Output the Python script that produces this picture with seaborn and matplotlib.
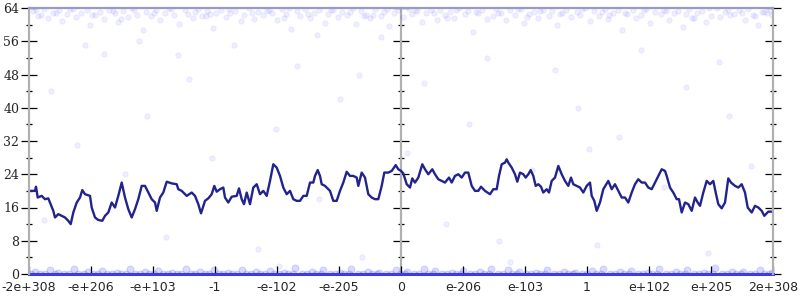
import matplotlib
matplotlib.use("Agg")
import matplotlib.pyplot as plt
import seaborn as sns
from matplotlib.ticker import MultipleLocator

# ---------------- data ----------------
tick_labels = ["-2e+308", "-e+206", "-e+103", "-1", "-e-102", "-e-205", "0",
               "e-206", "e-103", "1", "e+102", "e+205", "2e+308"]
tick_pos = [0, 62, 124, 186, 248, 310, 372, 434, 496, 558, 620, 682, 744]
y_ticks = [0, 8, 16, 24, 32, 40, 48, 56, 64]

line_x = [0, 6, 7, 8.7, 12.7, 16, 19.3, 21, 24.3, 26, 29.3, 32.7, 36, 39.3, 41.7, 44.3,
          47.7, 51, 53.3, 56, 61, 62.7, 66, 69.3, 73.3, 76, 79.3, 82.7, 86, 89.3, 92.7,
          96, 99.3, 102.7, 106, 109.3, 112.7, 116, 119.3, 122.7, 126, 127.7, 131, 134.3,
          137.7, 142.7, 147.7,
          149.3, 152.7, 157.7, 162.7, 166, 169.3, 172, 176, 179.3, 182.7, 185.3, 187.7,
          191, 194.3, 196, 199.3, 202.7, 207.7, 210, 212.7, 215, 217.7, 221, 224.3, 227.7,
          231, 234.3, 237.7, 241, 244.3, 247.7, 251, 254.3, 257.7, 261, 264.3, 267.7, 271,
          274.3, 277.7, 281, 284.3, 286, 288.7, 291, 292.7, 296,
          301, 304.3, 307.7, 311, 314.3, 317.7, 321, 324.3, 327.7, 329.3, 332.7, 336,
          339.3, 342.7, 346, 349.3, 352.7, 355.3, 359.3, 362.7, 366.7, 369.3, 372, 374.3,
          377.7, 381, 383.3, 386, 389.3, 393.3, 396, 399.3, 403.3, 406, 409.3, 412.7, 416,
          420, 422.7, 426, 429.3, 432.7, 436, 439.3, 442.7, 446, 449.3,
          452, 456, 461, 464.3, 467.7, 470, 472.7, 476, 477.7, 479.3, 482.7, 486, 488.3,
          491, 494.3, 496.7, 499.3, 501.7, 504.3, 506.7, 509.3, 512, 514.3, 517.7, 520,
          522.7, 526, 529.3, 532.7, 536, 539.3, 542, 544.3, 547.7, 551, 554.3, 557.7, 561,
          562.7, 565.3, 567.7, 571, 574.3, 579.3, 582.7, 586, 589.3, 592.7, 596, 599.3,
          602.7, 606, 609.3, 612.7, 616, 619.3, 622.7, 626, 629.3, 632.7, 636, 637.7, 641,
          644.3, 647.7, 650, 652.7, 656, 659.3, 662.7, 666, 668.7, 671, 674.3, 677.7, 681,
          684.3, 686.7, 689.3, 692.7, 696, 699.3, 702, 706, 709.3, 712.7, 716, 718.7,
          722.7, 726, 729.3, 732.7, 735.3, 739.3, 744]
line_y = [20, 20, 21, 18.4, 18.8, 18, 18.2, 17.2, 15.2, 13.6, 14.4, 14, 13.6, 12.8, 12, 14.8,
          17.2, 18.4, 20.2, 19.2, 18.8, 16, 13.6, 13, 12.8, 14, 14.8, 17.2, 16, 18.8, 22,
          18.4, 15.6, 13.6, 15.6, 18, 21.2, 21.2, 19.6, 18, 17.2, 15.2, 18.4, 19.6,
          22.2, 21.8, 21.6,
          20.4, 20, 18.8, 19.6, 18.8, 16.8, 14.6, 17.6, 18.2, 19.2, 21.2, 19.8,
          20.4, 20.8, 18.4, 17.2, 18.6, 18.8, 20.6, 18, 16.8, 19.6, 16.8, 20.8, 21.6,
          19.2, 20, 18.8, 22.4, 26.4, 25.6, 23.6, 20.8, 19.2, 20, 18, 17.6, 17.6,
          18.8, 18.8, 22, 22, 23.6, 25, 23.6, 21.6, 21.2,
          20, 17.6, 17.6, 20, 22, 24.6, 23.6, 23.6, 23.2, 21.2, 24.4, 23.2,
          19.2, 18.4, 18, 18, 21.2, 24.4, 24.4, 24.8, 26.2, 25.2, 24.8, 24.2,
          21.6, 20.8, 23, 22, 23.2, 26.4, 25.2, 24, 25.2, 24, 22.8, 22.4, 22,
          23.2, 22, 23.6, 24, 23.2, 24.4, 24.4, 21.2, 20, 20,
          21, 20, 19.2, 20.4, 20.4, 23.6, 26.4, 26.8, 27.6, 26.8, 25.6, 24, 22.2,
          24.4, 24, 23.2, 24, 25, 23.6, 21.2, 21.6, 21, 19.6, 20.4, 19.6,
          22.4, 23.2, 26, 24, 22.4, 21.2, 23.2, 21.6, 21.2, 20.8, 19.6, 21.2, 22,
          18.8, 17.6, 15.2, 17.2, 20.4, 22.4, 20.4, 21.6, 20, 18.4, 18.4, 17.2,
          19.6, 21.6, 22.8, 22, 22, 20.8, 20.4, 22, 23.6, 25.2, 24.8, 23.6, 20.8,
          19.6, 18, 18, 14.8, 17.2, 16.8, 15.2, 18.4, 17.2, 16.4, 19.6, 22.4, 21.6,
          22.4, 19.6, 16.8, 15.8, 17.2, 23, 22, 21.2, 20.8, 21.6, 19.6, 16,
          14.8, 16.4, 16, 15.2, 14, 15, 15]

top_x = [4, 9, 15, 19, 24, 30, 33, 38, 44, 47,
         52, 58, 61, 66, 71, 75, 80, 86, 89, 94,
         99, 103, 108, 114, 117, 122, 127, 131, 136, 142,
         145, 150, 156, 159, 164, 169, 173, 178, 184, 187,
         192, 197, 201, 206, 212, 215, 220, 225, 229, 234,
         240, 243, 248, 253, 257, 262, 268, 271, 276, 281,
         285, 290, 296, 299, 304, 309, 313, 318, 324, 327,
         332, 337, 341, 346, 352, 355, 360, 365, 369, 374,
         380, 383, 388, 393, 397, 402, 408, 411, 416, 421,
         425, 430, 436, 439, 444, 449, 453, 458, 464, 467,
         472, 477, 481, 486, 492, 495, 500, 505, 509, 514,
         520, 523, 528, 533, 537, 542, 548, 551, 556, 561,
         565, 570, 576, 579, 584, 589, 593, 598, 604, 607,
         612, 617, 621, 626, 632, 635, 640, 645, 649, 654,
         660, 663, 668, 673, 677, 682, 688, 691, 696, 701,
         705, 710, 716, 719, 724, 729, 733, 738, 741, 743]
top_y = [63.2, 62.1, 63.7, 61.5, 62.8, 63.4, 60.9, 62.5, 63.8, 61.9,
         62.7, 63.5, 59.8, 62.2, 63.1, 61.4, 63.6, 62.9, 60.7, 63.3,
         61.8, 63.9, 62.4, 58.6, 63.0, 62.0, 63.5, 61.2, 62.8, 63.7,
         62.3, 60.2, 63.4, 62.6, 61.6, 63.8, 62.1, 63.2, 59.3, 62.9,
         63.6, 61.9, 62.7, 63.3, 60.8, 62.4, 63.9, 61.3, 63.0, 62.2,
         63.5, 62.8, 61.1, 63.7, 62.5, 58.9, 63.2, 62.0, 63.8, 61.7,
         62.9, 63.4, 60.5, 62.6, 63.6, 61.8, 63.1, 62.3, 63.9, 60.1,
         63.3, 62.4, 61.5, 63.7, 62.1, 63.0, 59.6, 62.8, 63.5, 61.9,
         63.8, 62.6, 63.2, 60.6, 62.9, 63.4, 61.2, 63.6, 62.2, 63.1,
         61.6, 63.9, 62.5, 63.3, 58.3, 62.7, 63.5, 61.4, 62.0, 63.7,
         62.8, 61.1, 63.4, 62.3, 63.8, 60.4, 62.6, 63.0, 61.7, 63.6,
         62.1, 63.2, 59.9, 62.9, 63.5, 61.8, 63.1, 62.4, 63.9, 60.9,
         63.3, 62.0, 63.7, 61.3, 62.7, 63.4, 58.8, 62.5, 63.6, 61.6,
         62.2, 63.8, 60.3, 63.0, 62.6, 63.5, 61.0, 62.9, 63.2, 59.4,
         63.7, 61.5, 62.8, 63.3, 60.6, 62.1, 63.9, 61.9, 63.1, 62.4,
         62.6, 63.4, 61.2, 63.8, 62.3, 60.0, 63.0, 62.7, 63.6, 62.2]

top2_x = [7, 27, 41, 63, 84, 105, 125, 140, 166, 181,
          200, 223, 238, 260, 279, 302, 321, 344, 358, 386,
          405, 427, 447, 469, 489, 511, 531, 553, 573, 596,
          615, 637, 657, 680, 699, 713, 735, 12, 92, 177,
          255, 335, 418, 498, 580, 665, 726, 56, 149, 288]
top2_y = [63.5, 62.9, 63.8, 62.4, 63.2, 63.6, 62.7, 63.9, 63.1, 62.5,
          63.7, 62.8, 63.3, 63.9, 62.6, 63.4, 63.0, 62.3, 63.8, 63.5,
          62.9, 63.6, 63.1, 62.7, 63.8, 63.3, 62.5, 63.7, 63.0, 62.8,
          63.6, 63.2, 62.6, 63.9, 63.4, 62.9, 63.1, 62.2, 61.4, 62.0,
          61.7, 62.1, 61.5, 61.9, 62.3, 61.6, 62.0, 55.2, 52.6, 57.4]

bottom_x = [2, 6, 11, 16, 21, 26, 29, 35, 40, 45,
            49, 55, 59, 64, 69, 73, 78, 83, 88, 92,
            97, 101, 106, 111, 116, 120, 125, 129, 134, 139,
            143, 148, 152, 157, 162, 166, 171, 176, 180, 185,
            190, 194, 199, 203, 208, 213, 217, 222, 227, 231,
            236, 241, 245, 250, 255, 259, 264, 266, 273, 278,
            283, 287, 292, 294, 301, 306, 311, 315, 320, 322,
            329, 334, 339, 343, 348, 350, 357, 362, 367, 371,
            376, 378, 385, 390, 395, 399, 404, 406, 413, 418,
            423, 427, 432, 434, 441, 446, 451, 455, 460, 462,
            469, 474, 479, 483, 488, 490, 497, 502, 507, 511,
            516, 518, 525, 530, 535, 539, 544, 546, 553, 558,
            563, 567, 572, 574, 581, 586, 591, 595, 600, 602,
            609, 614, 619, 623, 628, 630, 637, 642, 647, 651,
            656, 658, 665, 670, 675, 679, 684, 686, 693, 698,
            703, 707, 712, 714, 721, 726, 731, 735, 740, 743]
bottom_y = [0, 0.4, 0, 0, 0.9, 0, 0.2, 0, 0, 1.2,
            0, 0, 0.5, 0, 0, 0.8, 0, 0, 0.3, 0,
            0, 1.1, 0, 0, 0.4, 0, 0, 0.7, 0, 0,
            0.2, 0, 0, 1.3, 0, 0, 0.5, 0, 0, 0.9,
            0, 0, 0.3, 0, 0, 1.0, 0, 0, 0.6, 0,
            0, 0.8, 0, 0, 0.2, 0, 0, 1.4, 0, 0,
            0.5, 0, 0, 0.9, 0, 0, 0.3, 0, 0, 1.1,
            0, 0, 0.6, 0, 0, 0.2, 0, 0, 1.0, 0,
            0, 0.4, 0, 0, 1.2, 0, 0, 0.7, 0, 0,
            0.3, 0, 0, 0.8, 0, 0, 0.5, 0, 0, 1.3,
            0, 0, 0.9, 0, 0, 0.4, 0, 0, 0.2, 0,
            0, 1.0, 0, 0, 0.6, 0, 0, 0.3, 0, 0,
            0.7, 0, 0, 1.2, 0, 0, 0.4, 0, 0, 0.8,
            0, 0, 0.2, 0, 0, 1.1, 0, 0, 0.5, 0,
            0, 0.9, 0, 0, 0.3, 0, 0, 1.4, 0, 0,
            0.6, 0, 0, 0.4, 0, 0, 1.0, 0, 0, 0.2]

mid_x = [22, 48, 75, 96, 118, 137, 160, 183, 205, 229,
         247, 268, 290, 311, 333, 352, 378, 395, 417, 440,
         458, 481, 503, 526, 549, 568, 590, 612, 635, 657,
         679, 700, 722, 15, 110, 250, 330, 470, 560, 690]
mid_y = [44, 31, 53, 24, 38, 9, 47, 28, 55, 6,
         35, 50, 18, 42, 4, 57, 29, 46, 12, 36,
         52, 3, 25, 49, 40, 7, 33, 54, 21, 45,
         5, 38, 26, 13, 56, 2, 48, 8, 30, 51]

# ---------------- figure ----------------
sns.set_theme(style="white")
plt.rcParams["font.family"] = ["DejaVu Sans"]

fig = plt.figure(figsize=(8, 3), dpi=100)
fig.patch.set_facecolor("white")
ax = fig.add_axes([29 / 800, 26 / 300, 744 / 800, 266 / 300])
ax.set_facecolor("white")

pt_kw = dict(color=(0.1, 0.1, 1.0), alpha=0.07, s=15, linewidth=0.6,
             edgecolor=(0.1, 0.1, 1.0), legend=False, ax=ax, zorder=1)
sns.scatterplot(x=top_x, y=top_y, **pt_kw)
sns.scatterplot(x=top2_x, y=top2_y, **pt_kw)
sns.scatterplot(x=mid_x, y=mid_y, **pt_kw)
bot_kw = dict(pt_kw)
bot_kw.update(alpha=0.16, s=26)
sns.scatterplot(x=bottom_x, y=bottom_y, **bot_kw)

sns.lineplot(x=line_x, y=line_y, ax=ax, color="#23238e", linewidth=1.7,
             sort=False, estimator=None, zorder=3)

ax.set_xlim(0, 744)
ax.set_ylim(0, 64)
ax.set_xticks(tick_pos)
ax.set_xticklabels(tick_labels, fontsize=9, family="DejaVu Sans")
ax.set_yticks(y_ticks)
ax.set_yticklabels([str(v) for v in y_ticks], fontsize=9, family="DejaVu Serif")
ax.yaxis.set_minor_locator(MultipleLocator(4))
ax.set_xlabel("")
ax.set_ylabel("")

gray = "#b0b0b0"
for side in ["left", "right", "top"]:
    ax.spines[side].set_color(gray)
    ax.spines[side].set_linewidth(1.6)
    ax.spines[side].set_zorder(4)
ax.spines["top"].set_color("#9a9ac8")
ax.spines["bottom"].set_color("#3c3ce0")
ax.spines["bottom"].set_linewidth(2.2)

ax.tick_params(axis="y", which="major", direction="inout", length=11, width=0.9,
               color="black", left=True, right=True, labelright=False, pad=1.5)
ax.tick_params(axis="y", which="minor", direction="inout", length=5, width=0.9,
               color="black", left=True, right=True)
ax.tick_params(axis="x", which="major", direction="in", length=6, width=0.9,
               color="black", bottom=True, pad=5)

sec = ax.secondary_yaxis(0.5)
sec.set_yticks(y_ticks)
sec.yaxis.set_minor_locator(MultipleLocator(4))
sec.tick_params(axis="y", which="major", direction="inout", length=11, width=0.9,
                color="black", labelleft=False, labelright=False)
sec.tick_params(axis="y", which="minor", direction="inout", length=5, width=0.9,
                color="black")
for sp in sec.spines.values():
    sp.set_color(gray)
    sp.set_linewidth(1.6)

fig.savefig("out.png", dpi=100)
